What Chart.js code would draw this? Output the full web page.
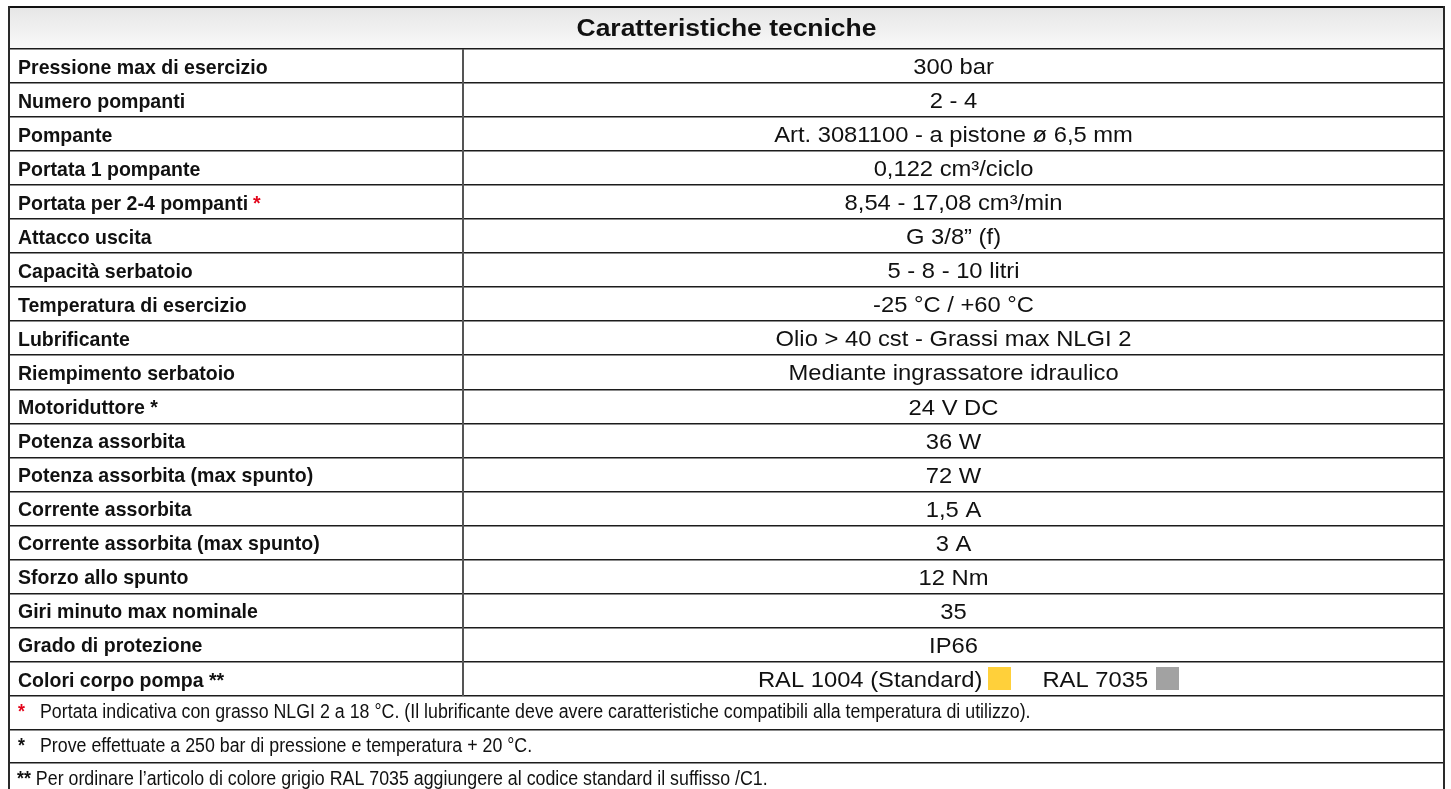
<!DOCTYPE html>
<html>
<head>
<meta charset="utf-8">
<script src="https://cdn.jsdelivr.net/npm/chart.js@4.4.0/dist/chart.umd.min.js"></script>
<style>
html,body{margin:0;padding:0;background:#fff;overflow:hidden;}
#wrap{width:1451px;height:789px;position:relative;}
</style>
</head>
<body>
<div id="wrap"><canvas id="c"></canvas></div>
<script>
// ---------------- data ----------------
const tableTitle = 'Caratteristiche tecniche';
const rowLabels = [
  'Pressione max di esercizio',
  'Numero pompanti',
  'Pompante',
  'Portata 1 pompante',
  'Portata per 2-4 pompanti',
  'Attacco uscita',
  'Capacità serbatoio',
  'Temperatura di esercizio',
  'Lubrificante',
  'Riempimento serbatoio',
  'Motoriduttore *',
  'Potenza assorbita',
  'Potenza assorbita (max spunto)',
  'Corrente assorbita',
  'Corrente assorbita (max spunto)',
  'Sforzo allo spunto',
  'Giri minuto max nominale',
  'Grado di protezione',
  'Colori corpo pompa **'
];
const labelNoteMarks = ['', '', '', '', '*', '', '', '', '', '', '', '', '', '', '', '', '', '', ''];
const rowValues = [
  '300 bar',
  '2 - 4',
  'Art. 3081100 - a pistone ø 6,5 mm',
  '0,122 cm³/ciclo',
  '8,54 - 17,08 cm³/min',
  'G 3/8” (f)',
  '5 - 8 - 10 litri',
  '-25 °C / +60 °C',
  'Olio > 40 cst - Grassi max NLGI 2',
  'Mediante ingrassatore idraulico',
  '24 V DC',
  '36 W',
  '72 W',
  '1,5 A',
  '3 A',
  '12 Nm',
  '35',
  'IP66',
  ''
];
const colourNames = ['RAL 1004 (Standard)', 'RAL 7035'];
const colourSwatches = ['#FFD03A', '#A2A2A2'];
const footnoteMarks = ['*', '*', '**'];
const footnoteTexts = [
  'Portata indicativa con grasso NLGI 2 a 18 °C. (Il lubrificante deve avere caratteristiche compatibili alla temperatura di utilizzo).',
  'Prove effettuate a 250 bar di pressione e temperatura + 20 °C.',
  'Per ordinare l’articolo di colore grigio RAL 7035 aggiungere al codice standard il suffisso /C1.'
];

// ---------------- layout (in row units of the y scale) ----------------
const HEADER_UNITS = 1.2335;
const FOOT_UNITS = 0.987;
const Y_MAX = 22.966;
const COL_SPLIT = 0.3164;

const SANS = '"Liberation Sans", Arial, Helvetica, sans-serif';

function drawScaled(ctx, text, x, y, font, sx, color, align) {
  ctx.save();
  ctx.font = font;
  ctx.fillStyle = color;
  ctx.textBaseline = 'alphabetic';
  ctx.textAlign = 'left';
  const w = ctx.measureText(text).width * sx;
  let x0 = x;
  if (align === 'center') x0 = x - w / 2;
  ctx.translate(x0, y);
  ctx.scale(sx, 1);
  ctx.fillText(text, 0, 0);
  ctx.restore();
  return w;
}
function measureScaled(ctx, text, font, sx) {
  ctx.save();
  ctx.font = font;
  const w = ctx.measureText(text).width * sx;
  ctx.restore();
  return w;
}

const LABEL_FONT = 'bold 21px ' + SANS, LABEL_SX = 0.93;
const VALUE_FONT = '22px ' + SANS, VALUE_SX = 1.08;
const TITLE_FONT = 'bold 23px ' + SANS, TITLE_SX = 1.15;
const NOTE_FONT = '20px ' + SANS, NOTE_BOLD = 'bold 20px ' + SANS, NOTE_SX = 0.89;

const tablePlugin = {
  id: 'specTable',
  afterDraw(chart) {
    const ctx = chart.ctx;
    const xs = chart.scales.x, ys = chart.scales.y;
    const X = v => xs.getPixelForValue(v);
    const Y = v => ys.getPixelForValue(v);
    const left = X(0), right = X(1), split = X(COL_SPLIT);
    const width = right - left;

    const bounds = [0, HEADER_UNITS];
    rowLabels.forEach((_, i) => bounds.push(HEADER_UNITS + i + 1));
    const dataEnd = HEADER_UNITS + rowLabels.length;
    footnoteTexts.forEach((_, j) => bounds.push(dataEnd + (j + 1) * FOOT_UNITS));

    // header background
    const hTop = Y(0), hBot = Y(HEADER_UNITS);
    const g = ctx.createLinearGradient(0, hTop, 0, hBot);
    g.addColorStop(0, '#e6e6e6');
    g.addColorStop(1, '#f9f9f9');
    ctx.fillStyle = g;
    ctx.fillRect(left, hTop, width, hBot - hTop);

    // header title
    drawScaled(ctx, tableTitle, (left + right) / 2, (hTop + hBot) / 2 + 8.3, TITLE_FONT, TITLE_SX, '#111', 'center');

    // data rows
    rowLabels.forEach((lab, i) => {
      const top = Y(HEADER_UNITS + i), bot = Y(HEADER_UNITS + i + 1);
      const mid = (top + bot) / 2;
      const base = mid + 7.6;
      const w = drawScaled(ctx, lab, left + 9, base, LABEL_FONT, LABEL_SX, '#111', 'left');
      if (labelNoteMarks[i]) {
        drawScaled(ctx, labelNoteMarks[i], left + 9 + w + 5, base, LABEL_FONT, LABEL_SX, '#e3051b', 'left');
      }
      const cx = (split + right) / 2;
      if (rowValues[i]) {
        drawScaled(ctx, rowValues[i], cx, base + 0.4, VALUE_FONT, VALUE_SX, '#111', 'center');
      } else {
        const w1 = measureScaled(ctx, colourNames[0], VALUE_FONT, VALUE_SX);
        const w2 = measureScaled(ctx, colourNames[1], VALUE_FONT, VALUE_SX);
        const sw = 23;
        const total = w1 + 6 + sw + 31 + w2 + 8 + sw;
        let x = cx + 15 - total / 2;
        drawScaled(ctx, colourNames[0], x, base + 0.4, VALUE_FONT, VALUE_SX, '#111', 'left');
        x += w1 + 6;
        ctx.fillStyle = colourSwatches[0];
        ctx.fillRect(Math.round(x), Math.round(mid - 11.5), sw, sw);
        x += sw + 31;
        drawScaled(ctx, colourNames[1], x, base + 0.4, VALUE_FONT, VALUE_SX, '#111', 'left');
        x += w2 + 8;
        ctx.fillStyle = colourSwatches[1];
        ctx.fillRect(Math.round(x), Math.round(mid - 11.5), sw, sw);
      }
    });

    // footnotes
    footnoteTexts.forEach((txt, j) => {
      const top = Y(dataEnd + j * FOOT_UNITS), bot = Y(dataEnd + (j + 1) * FOOT_UNITS);
      const base = (top + bot) / 2 + 5.2;
      const markColor = j === 0 ? '#e3051b' : '#111';
      const mk = footnoteMarks[j];
      if (mk.length === 1) {
        drawScaled(ctx, mk, left + 9, base, NOTE_BOLD, NOTE_SX, markColor, 'left');
        drawScaled(ctx, txt, left + 31, base, NOTE_FONT, NOTE_SX, '#111', 'left');
      } else {
        const w = drawScaled(ctx, mk, left + 8, base, NOTE_BOLD, NOTE_SX, markColor, 'left');
        drawScaled(ctx, txt, left + 8 + w + 5, base, NOTE_FONT, NOTE_SX, '#111', 'left');
      }
    });

    // horizontal rules
    bounds.forEach((b, k) => {
      const py = Math.round(Y(b));
      if (k === 0) {
        ctx.fillStyle = '#111';
        ctx.fillRect(left - 1, py - 1, width + 2, 2);
      } else {
        ctx.fillStyle = '#1c1c1c';
        ctx.fillRect(left, py - 1, width, 1);
        ctx.fillStyle = '#8c8c8c';
        ctx.fillRect(left, py, width, 1);
      }
    });

    // column divider
    ctx.fillStyle = '#555';
    ctx.fillRect(Math.round(split) - 1, Math.round(hBot), 2, Math.round(Y(dataEnd) - hBot));

    // outer borders
    ctx.fillStyle = '#2a2a2a';
    ctx.fillRect(Math.round(left) - 1, Math.round(hTop) - 1, 2, chart.height);
    ctx.fillRect(Math.round(right) - 1, Math.round(hTop) - 1, 2, chart.height);
  }
};

new Chart(document.getElementById('c'), {
  type: 'scatter',
  data: { datasets: [{ data: [], pointRadius: 0 }] },
  options: {
    responsive: true,
    maintainAspectRatio: false,
    animation: false,
    events: [],
    layout: { padding: { left: 9, right: 7, top: 7, bottom: 0 } },
    plugins: { legend: { display: false }, tooltip: { enabled: false } },
    scales: {
      x: { type: 'linear', min: 0, max: 1, display: false },
      y: { type: 'linear', min: 0, max: Y_MAX, reverse: true, display: false }
    }
  },
  plugins: [tablePlugin]
});
</script>
</body>
</html>
